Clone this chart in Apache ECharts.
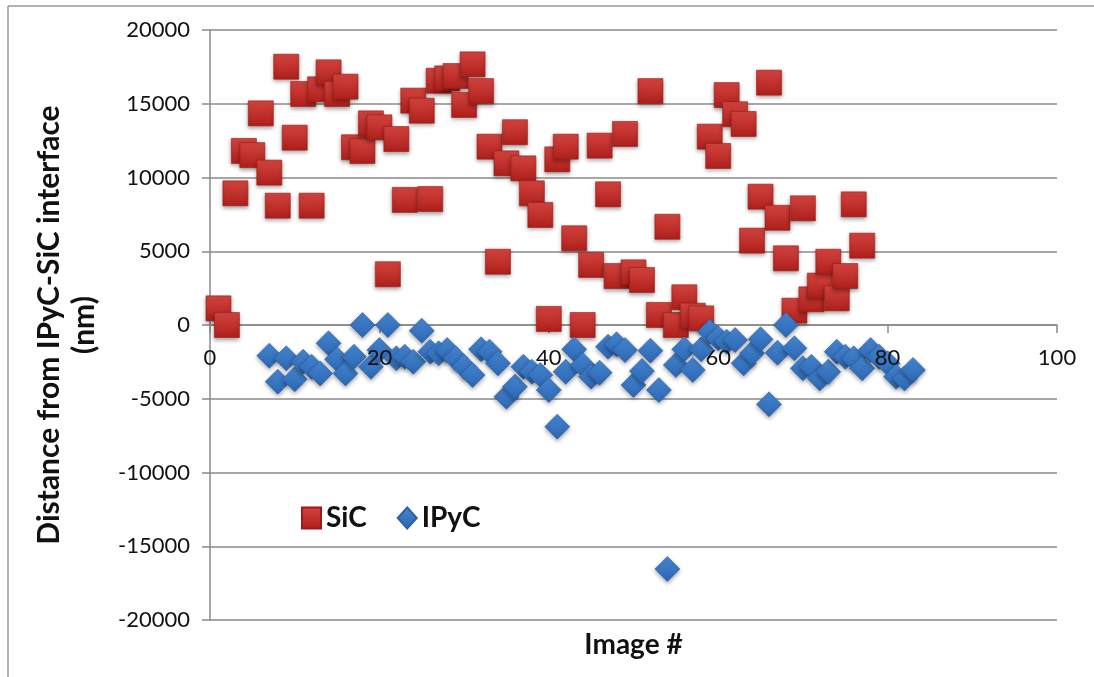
<!DOCTYPE html>
<html>
<head>
<meta charset="utf-8">
<script src="https://cdn.jsdelivr.net/npm/echarts@6/dist/echarts.min.js"></script>
<style>html,body{margin:0;padding:0;background:#fff}#c{width:1094px;height:677px}</style>
</head>
<body>
<div id="c"></div>
<script>
const sicImage = [1,2,3,4,5,6,7,8,9,10,11,12,13,14,15,16,17,18,19,20,21,22,23,24,25,26,27,28,29,30,31,32,33,34,35,36,37,38,39,40,41,42,43,44,45,46,47,48,49,50,51,52,53,54,55,56,57,58,59,60,61,62,63,64,65,66,67,68,69,70,71,72,73,74,75,76,77];
const sicValues = [1130,0,8930,11800,11520,14350,10330,8090,17510,12700,15660,8090,15980,17130,15660,16160,12050,11800,13670,13400,3440,12610,8480,15210,14530,8540,16560,16720,16880,14920,17670,15860,12090,4290,10960,13070,10620,8930,7460,410,11230,12090,5880,0,4070,12160,8860,3320,12950,3570,3050,15860,680,6660,0,1880,630,450,12770,11460,15590,14290,13630,5720,8700,16430,7270,4520,970,7910,1740,2670,4290,1810,3320,8180,5380];
const ipycImage = [7,8,9,10,11,12,13,14,15,16,17,18,19,20,21,22,23,24,25,26,27,28,29,30,31,32,33,34,35,36,37,38,39,40,41,42,43,44,45,46,47,48,49,50,51,52,53,54,55,56,57,58,59,60,61,62,63,64,65,66,67,68,69,70,71,72,73,74,75,76,77,78,79,80,81,82,83];
const ipycValues = [-2080,-3840,-2260,-3680,-2490,-2830,-3280,-1240,-2330,-3280,-2150,0,-2830,-1700,0,-2260,-2150,-2490,-390,-1810,-1920,-1700,-2260,-2830,-3390,-1650,-1810,-2600,-4860,-4180,-2830,-3170,-3390,-4410,-6890,-3170,-1650,-2710,-3500,-3230,-1470,-1310,-1700,-4070,-3120,-1740,-4410,-16540,-2710,-1650,-3050,-1650,-450,-900,-1130,-1020,-2600,-1920,-970,-5380,-1880,0,-1580,-2940,-2830,-3620,-3170,-1810,-2150,-2260,-2940,-1700,-2150,-2600,-3500,-3620,-3050];
const xTicks = [0,20,40,60,80,100];
const yTicks = [-20000,-15000,-10000,-5000,0,5000,10000,15000,20000];

const pair = (xs, ys) => xs.map((x, i) => [x, ys[i]]);
const FONT = 'Lato';
const red = new echarts.graphic.LinearGradient(0,0,0,1,[{offset:0,color:'#d6443f'},{offset:1,color:'#ad1f1b'}]);
const blue = new echarts.graphic.LinearGradient(0,0,0,1,[{offset:0,color:'#4687d4'},{offset:1,color:'#2c66b0'}]);

const GRID_TOP = 30, GRID_BOTTOM = 57, H = 677;
// distance (px) from the grid bottom up to the value 0 on the y axis
const zeroOffset = (H - GRID_TOP - GRID_BOTTOM) * (0 - yTicks[0]) / (yTicks[yTicks.length-1] - yTicks[0]);

const xBase = {
  type: 'value', min: xTicks[0], max: xTicks[xTicks.length-1], interval: 20,
  position: 'bottom', offset: -zeroOffset, splitLine: {show: false}
};

const chart = echarts.init(document.getElementById('c'));
chart.setOption({
  animation: false,
  backgroundColor: '#fff',
  grid: {left: 210, right: 37, top: GRID_TOP, bottom: GRID_BOTTOM, containLabel: false, outerBoundsMode: 'none'},
  xAxis: [
    Object.assign({}, xBase, {
      axisLine: {onZero: false, lineStyle: {color: '#8a8a8a', width: 1.5}},
      axisTick: {show: true, length: 8, lineStyle: {color: '#8a8a8a', width: 1.5}},
      axisLabel: {show: false},
      name: 'Image #', nameLocation: 'middle', nameGap: 306,
      nameTextStyle: {fontFamily: FONT, fontWeight: 'bold', fontSize: 28, color: '#111'}
    }),
    Object.assign({}, xBase, {
      z: 10,
      axisLine: {show: false, onZero: false},
      axisTick: {show: false},
      axisLabel: {margin: 22, color: '#111', fontFamily: FONT, fontSize: 22, formatter: v => String(v)}
    })
  ],
  yAxis: {
    type: 'value', min: yTicks[0], max: yTicks[yTicks.length-1], interval: 5000,
    axisLine: {show: true, onZero: false, lineStyle: {color: '#8a8a8a', width: 1.5}},
    axisTick: {show: true, length: 8, lineStyle: {color: '#8a8a8a', width: 1.5}},
    axisLabel: {margin: 20, color: '#111', fontFamily: FONT, fontSize: 22, formatter: v => String(v)},
    splitLine: {show: true, lineStyle: {color: '#8a8a8a', width: 1.5}},
    name: 'Distance from IPyC-SiC interface\n(nm)', nameLocation: 'middle', nameGap: 108,
    nameTextStyle: {fontFamily: FONT, fontWeight: 'bold', fontSize: 30, color: '#111', lineHeight: 35}
  },
  legend: {
    left: 296, top: 499, itemWidth: 19, itemHeight: 21, itemGap: 30,
    textStyle: {fontFamily: FONT, fontWeight: 'bold', fontSize: 28, color: '#111'},
    data: [{name: 'SiC', icon: 'rect'}, {name: 'IPyC', icon: 'diamond'}]
  },
  graphic: [
    {type: 'line', shape: {x1: 8, y1: 6, x2: 1094, y2: 6}, style: {stroke: '#9a9a9a', lineWidth: 1.5}},
    {type: 'line', shape: {x1: 8, y1: 6, x2: 8, y2: 677}, style: {stroke: '#9a9a9a', lineWidth: 1.5}}
  ],
  series: [
    {
      name: 'SiC', type: 'scatter', xAxisIndex: 0, symbol: 'rect', symbolSize: 25,
      data: pair(sicImage, sicValues),
      itemStyle: {color: red, opacity: 1, borderColor: '#9e1c18', borderWidth: 0.6, shadowBlur: 4, shadowOffsetY: 2, shadowColor: 'rgba(0,0,0,0.35)'}
    },
    {
      name: 'IPyC', type: 'scatter', xAxisIndex: 0, symbol: 'diamond', symbolSize: 25,
      data: pair(ipycImage, ipycValues),
      itemStyle: {color: blue, opacity: 1, borderColor: '#2a60a5', borderWidth: 0.6, shadowBlur: 4, shadowOffsetY: 2, shadowColor: 'rgba(0,0,0,0.35)'}
    }
  ]
});
</script>
</body>
</html>
